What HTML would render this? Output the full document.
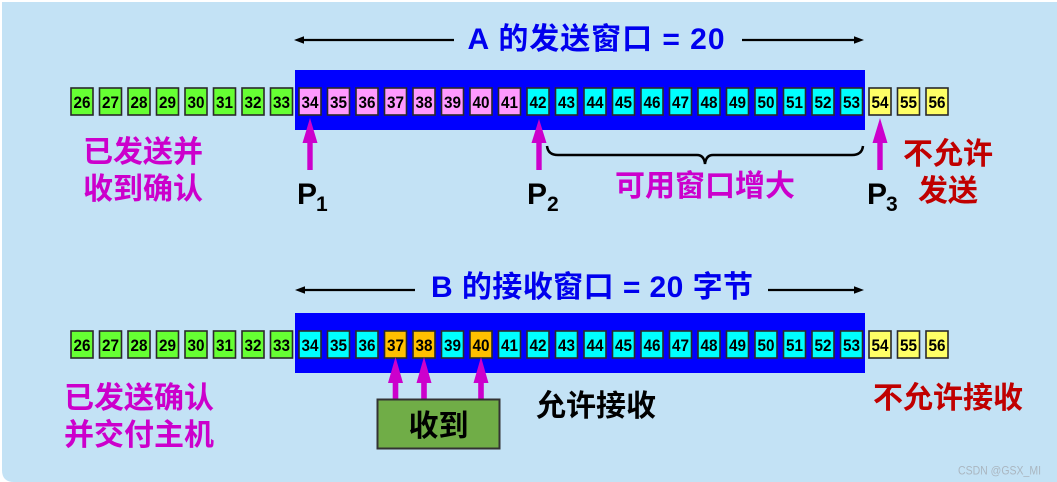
<!DOCTYPE html>
<html><head><meta charset="utf-8">
<style>
html,body{margin:0;padding:0;background:#fff;}
svg{display:block;}
.b rect{stroke:#2a2a2a;stroke-width:1.6;}
.b text{font-family:"Liberation Sans",sans-serif;font-weight:bold;font-size:17px;fill:#000;text-anchor:middle;}
.g{fill:#66ff33}.p{fill:#ff99ff}.c{fill:#00ffff}.y{fill:#ffff66}.o{fill:#ffc000}
.cj{font-family:"Liberation Sans","Noto Sans CJK SC",sans-serif;font-weight:bold;font-size:30px;}
</style></head>
<body>
<svg width="1057" height="482" viewBox="0 0 1057 482" xmlns="http://www.w3.org/2000/svg">
<path d="M2,2 H1057 V482 H14 Q2,482 2,470 Z" fill="#c3e2f5"/>

<!-- Title A -->
<line x1="300" y1="40" x2="454" y2="40" stroke="#000" stroke-width="2.2"/>
<polygon points="294,40 304,36.3 304,43.7" fill="#000"/>
<line x1="742" y1="40" x2="858" y2="40" stroke="#000" stroke-width="2.2"/>
<polygon points="864,40 854,36.3 854,43.7" fill="#000"/>
<text class="cj" x="596" y="49" text-anchor="middle" fill="#0000ee" textLength="257" lengthAdjust="spacing">A 的发送窗口 = 20</text>

<!-- Row 1 blue -->
<rect x="295" y="70" width="570" height="60" fill="#0000ff"/>

<g class="b">
<g transform="translate(71,88)"><rect class="g" width="22" height="27"/><text x="11" y="20" textLength="17" lengthAdjust="spacingAndGlyphs">26</text></g>
<g transform="translate(99.5,88)"><rect class="g" width="22" height="27"/><text x="11" y="20" textLength="17" lengthAdjust="spacingAndGlyphs">27</text></g>
<g transform="translate(128,88)"><rect class="g" width="22" height="27"/><text x="11" y="20" textLength="17" lengthAdjust="spacingAndGlyphs">28</text></g>
<g transform="translate(156.5,88)"><rect class="g" width="22" height="27"/><text x="11" y="20" textLength="17" lengthAdjust="spacingAndGlyphs">29</text></g>
<g transform="translate(185,88)"><rect class="g" width="22" height="27"/><text x="11" y="20" textLength="17" lengthAdjust="spacingAndGlyphs">30</text></g>
<g transform="translate(213.5,88)"><rect class="g" width="22" height="27"/><text x="11" y="20" textLength="17" lengthAdjust="spacingAndGlyphs">31</text></g>
<g transform="translate(242,88)"><rect class="g" width="22" height="27"/><text x="11" y="20" textLength="17" lengthAdjust="spacingAndGlyphs">32</text></g>
<g transform="translate(270.5,88)"><rect class="g" width="22" height="27"/><text x="11" y="20" textLength="17" lengthAdjust="spacingAndGlyphs">33</text></g>
<g transform="translate(299,88)"><rect class="p" width="22" height="27"/><text x="11" y="20" textLength="17" lengthAdjust="spacingAndGlyphs">34</text></g>
<g transform="translate(327.5,88)"><rect class="p" width="22" height="27"/><text x="11" y="20" textLength="17" lengthAdjust="spacingAndGlyphs">35</text></g>
<g transform="translate(356,88)"><rect class="p" width="22" height="27"/><text x="11" y="20" textLength="17" lengthAdjust="spacingAndGlyphs">36</text></g>
<g transform="translate(384.5,88)"><rect class="p" width="22" height="27"/><text x="11" y="20" textLength="17" lengthAdjust="spacingAndGlyphs">37</text></g>
<g transform="translate(413,88)"><rect class="p" width="22" height="27"/><text x="11" y="20" textLength="17" lengthAdjust="spacingAndGlyphs">38</text></g>
<g transform="translate(441.5,88)"><rect class="p" width="22" height="27"/><text x="11" y="20" textLength="17" lengthAdjust="spacingAndGlyphs">39</text></g>
<g transform="translate(470,88)"><rect class="p" width="22" height="27"/><text x="11" y="20" textLength="17" lengthAdjust="spacingAndGlyphs">40</text></g>
<g transform="translate(498.5,88)"><rect class="p" width="22" height="27"/><text x="11" y="20" textLength="17" lengthAdjust="spacingAndGlyphs">41</text></g>
<g transform="translate(527,88)"><rect class="c" width="22" height="27"/><text x="11" y="20" textLength="17" lengthAdjust="spacingAndGlyphs">42</text></g>
<g transform="translate(555.5,88)"><rect class="c" width="22" height="27"/><text x="11" y="20" textLength="17" lengthAdjust="spacingAndGlyphs">43</text></g>
<g transform="translate(584,88)"><rect class="c" width="22" height="27"/><text x="11" y="20" textLength="17" lengthAdjust="spacingAndGlyphs">44</text></g>
<g transform="translate(612.5,88)"><rect class="c" width="22" height="27"/><text x="11" y="20" textLength="17" lengthAdjust="spacingAndGlyphs">45</text></g>
<g transform="translate(641,88)"><rect class="c" width="22" height="27"/><text x="11" y="20" textLength="17" lengthAdjust="spacingAndGlyphs">46</text></g>
<g transform="translate(669.5,88)"><rect class="c" width="22" height="27"/><text x="11" y="20" textLength="17" lengthAdjust="spacingAndGlyphs">47</text></g>
<g transform="translate(698,88)"><rect class="c" width="22" height="27"/><text x="11" y="20" textLength="17" lengthAdjust="spacingAndGlyphs">48</text></g>
<g transform="translate(726.5,88)"><rect class="c" width="22" height="27"/><text x="11" y="20" textLength="17" lengthAdjust="spacingAndGlyphs">49</text></g>
<g transform="translate(755,88)"><rect class="c" width="22" height="27"/><text x="11" y="20" textLength="17" lengthAdjust="spacingAndGlyphs">50</text></g>
<g transform="translate(783.5,88)"><rect class="c" width="22" height="27"/><text x="11" y="20" textLength="17" lengthAdjust="spacingAndGlyphs">51</text></g>
<g transform="translate(812,88)"><rect class="c" width="22" height="27"/><text x="11" y="20" textLength="17" lengthAdjust="spacingAndGlyphs">52</text></g>
<g transform="translate(840.5,88)"><rect class="c" width="22" height="27"/><text x="11" y="20" textLength="17" lengthAdjust="spacingAndGlyphs">53</text></g>
<g transform="translate(869,88)"><rect class="y" width="22" height="27"/><text x="11" y="20" textLength="17" lengthAdjust="spacingAndGlyphs">54</text></g>
<g transform="translate(897.5,88)"><rect class="y" width="22" height="27"/><text x="11" y="20" textLength="17" lengthAdjust="spacingAndGlyphs">55</text></g>
<g transform="translate(926,88)"><rect class="y" width="22" height="27"/><text x="11" y="20" textLength="17" lengthAdjust="spacingAndGlyphs">56</text></g>
</g>

<!-- Row 1 arrows -->
<g fill="#cc00cc">
<polygon points="310,118 317.5,143 312.7,143 312.7,170 307.3,170 307.3,143 302.5,143"/>
<polygon points="539,119 546.5,143 541.7,143 541.7,170 536.3,170 536.3,143 531.5,143"/>
<polygon points="880,118 887.5,143 882.7,143 882.7,170 877.3,170 877.3,143 872.5,143"/>
</g>

<!-- brace -->
<path d="M547,146 Q548,155 558,155 L697,155 Q704,155 705,164 Q706,155 713,155 L852,155 Q862,155 863,146" fill="none" stroke="#000" stroke-width="2.5"/>

<!-- P labels -->
<g font-family="Liberation Sans, sans-serif" font-weight="bold" fill="#000">
<text x="297" y="204" font-size="30">P</text><text x="316" y="211" font-size="21">1</text>
<text x="527" y="204" font-size="30">P</text><text x="547" y="211" font-size="21">2</text>
<text x="867" y="204" font-size="30">P</text><text x="886" y="211" font-size="21">3</text>
</g>

<!-- Row 1 labels -->
<text class="cj" x="143" y="162" text-anchor="middle" fill="#cc00cc">已发送并</text>
<text class="cj" x="143" y="199" text-anchor="middle" fill="#cc00cc">收到确认</text>
<text class="cj" x="705" y="196" text-anchor="middle" fill="#cc00cc">可用窗口增大</text>
<text class="cj" x="948" y="164" text-anchor="middle" fill="#c00000">不允许</text>
<text class="cj" x="948" y="201" text-anchor="middle" fill="#c00000">发送</text>

<!-- Title B -->
<line x1="301" y1="290" x2="415" y2="290" stroke="#000" stroke-width="2.2"/>
<polygon points="295,290 305,286.3 305,293.7" fill="#000"/>
<line x1="768" y1="290" x2="857" y2="290" stroke="#000" stroke-width="2.2"/>
<polygon points="864,290 854,286.3 854,293.7" fill="#000"/>
<text class="cj" x="592" y="297" text-anchor="middle" fill="#0000ee" textLength="322" lengthAdjust="spacing">B 的接收窗口 = 20 字节</text>

<!-- Row 2 blue -->
<rect x="295" y="313" width="570" height="60" fill="#0000ff"/>

<g class="b">
<g transform="translate(71,331)"><rect class="g" width="22" height="27"/><text x="11" y="20" textLength="17" lengthAdjust="spacingAndGlyphs">26</text></g>
<g transform="translate(99.5,331)"><rect class="g" width="22" height="27"/><text x="11" y="20" textLength="17" lengthAdjust="spacingAndGlyphs">27</text></g>
<g transform="translate(128,331)"><rect class="g" width="22" height="27"/><text x="11" y="20" textLength="17" lengthAdjust="spacingAndGlyphs">28</text></g>
<g transform="translate(156.5,331)"><rect class="g" width="22" height="27"/><text x="11" y="20" textLength="17" lengthAdjust="spacingAndGlyphs">29</text></g>
<g transform="translate(185,331)"><rect class="g" width="22" height="27"/><text x="11" y="20" textLength="17" lengthAdjust="spacingAndGlyphs">30</text></g>
<g transform="translate(213.5,331)"><rect class="g" width="22" height="27"/><text x="11" y="20" textLength="17" lengthAdjust="spacingAndGlyphs">31</text></g>
<g transform="translate(242,331)"><rect class="g" width="22" height="27"/><text x="11" y="20" textLength="17" lengthAdjust="spacingAndGlyphs">32</text></g>
<g transform="translate(270.5,331)"><rect class="g" width="22" height="27"/><text x="11" y="20" textLength="17" lengthAdjust="spacingAndGlyphs">33</text></g>
<g transform="translate(299,331)"><rect class="c" width="22" height="27"/><text x="11" y="20" textLength="17" lengthAdjust="spacingAndGlyphs">34</text></g>
<g transform="translate(327.5,331)"><rect class="c" width="22" height="27"/><text x="11" y="20" textLength="17" lengthAdjust="spacingAndGlyphs">35</text></g>
<g transform="translate(356,331)"><rect class="c" width="22" height="27"/><text x="11" y="20" textLength="17" lengthAdjust="spacingAndGlyphs">36</text></g>
<g transform="translate(384.5,331)"><rect class="o" width="22" height="27"/><text x="11" y="20" textLength="17" lengthAdjust="spacingAndGlyphs">37</text></g>
<g transform="translate(413,331)"><rect class="o" width="22" height="27"/><text x="11" y="20" textLength="17" lengthAdjust="spacingAndGlyphs">38</text></g>
<g transform="translate(441.5,331)"><rect class="c" width="22" height="27"/><text x="11" y="20" textLength="17" lengthAdjust="spacingAndGlyphs">39</text></g>
<g transform="translate(470,331)"><rect class="o" width="22" height="27"/><text x="11" y="20" textLength="17" lengthAdjust="spacingAndGlyphs">40</text></g>
<g transform="translate(498.5,331)"><rect class="c" width="22" height="27"/><text x="11" y="20" textLength="17" lengthAdjust="spacingAndGlyphs">41</text></g>
<g transform="translate(527,331)"><rect class="c" width="22" height="27"/><text x="11" y="20" textLength="17" lengthAdjust="spacingAndGlyphs">42</text></g>
<g transform="translate(555.5,331)"><rect class="c" width="22" height="27"/><text x="11" y="20" textLength="17" lengthAdjust="spacingAndGlyphs">43</text></g>
<g transform="translate(584,331)"><rect class="c" width="22" height="27"/><text x="11" y="20" textLength="17" lengthAdjust="spacingAndGlyphs">44</text></g>
<g transform="translate(612.5,331)"><rect class="c" width="22" height="27"/><text x="11" y="20" textLength="17" lengthAdjust="spacingAndGlyphs">45</text></g>
<g transform="translate(641,331)"><rect class="c" width="22" height="27"/><text x="11" y="20" textLength="17" lengthAdjust="spacingAndGlyphs">46</text></g>
<g transform="translate(669.5,331)"><rect class="c" width="22" height="27"/><text x="11" y="20" textLength="17" lengthAdjust="spacingAndGlyphs">47</text></g>
<g transform="translate(698,331)"><rect class="c" width="22" height="27"/><text x="11" y="20" textLength="17" lengthAdjust="spacingAndGlyphs">48</text></g>
<g transform="translate(726.5,331)"><rect class="c" width="22" height="27"/><text x="11" y="20" textLength="17" lengthAdjust="spacingAndGlyphs">49</text></g>
<g transform="translate(755,331)"><rect class="c" width="22" height="27"/><text x="11" y="20" textLength="17" lengthAdjust="spacingAndGlyphs">50</text></g>
<g transform="translate(783.5,331)"><rect class="c" width="22" height="27"/><text x="11" y="20" textLength="17" lengthAdjust="spacingAndGlyphs">51</text></g>
<g transform="translate(812,331)"><rect class="c" width="22" height="27"/><text x="11" y="20" textLength="17" lengthAdjust="spacingAndGlyphs">52</text></g>
<g transform="translate(840.5,331)"><rect class="c" width="22" height="27"/><text x="11" y="20" textLength="17" lengthAdjust="spacingAndGlyphs">53</text></g>
<g transform="translate(869,331)"><rect class="y" width="22" height="27"/><text x="11" y="20" textLength="17" lengthAdjust="spacingAndGlyphs">54</text></g>
<g transform="translate(897.5,331)"><rect class="y" width="22" height="27"/><text x="11" y="20" textLength="17" lengthAdjust="spacingAndGlyphs">55</text></g>
<g transform="translate(926,331)"><rect class="y" width="22" height="27"/><text x="11" y="20" textLength="17" lengthAdjust="spacingAndGlyphs">56</text></g>
</g>

<!-- Row 2 arrows -->
<g fill="#cc00cc">
<polygon points="395.5,357 403,383 398.3,383 398.3,400 392.7,400 392.7,383 388,383"/>
<polygon points="424,357 431.5,383 426.8,383 426.8,400 421.2,400 421.2,383 416.5,383"/>
<polygon points="481,357 488.5,383 483.8,383 483.8,400 478.2,400 478.2,383 473.5,383"/>
</g>

<!-- 收到 box -->
<rect x="377.5" y="399.5" width="122" height="49" fill="#70ad47" stroke="#333" stroke-width="2"/>
<text class="cj" x="438.5" y="436" text-anchor="middle" fill="#000">收到</text>

<!-- Row 2 labels -->
<text class="cj" x="139" y="408" text-anchor="middle" fill="#cc00cc">已发送确认</text>
<text class="cj" x="139" y="445" text-anchor="middle" fill="#cc00cc">并交付主机</text>
<text class="cj" x="596" y="416" text-anchor="middle" fill="#000">允许接收</text>
<text class="cj" x="948" y="408" text-anchor="middle" fill="#c00000">不允许接收</text>

<!-- watermark -->
<text x="958" y="474.5" font-family="Liberation Sans, sans-serif" font-size="12" fill="#aab6c0" textLength="83" lengthAdjust="spacingAndGlyphs">CSDN @GSX_MI</text>
</svg>
</body></html>
